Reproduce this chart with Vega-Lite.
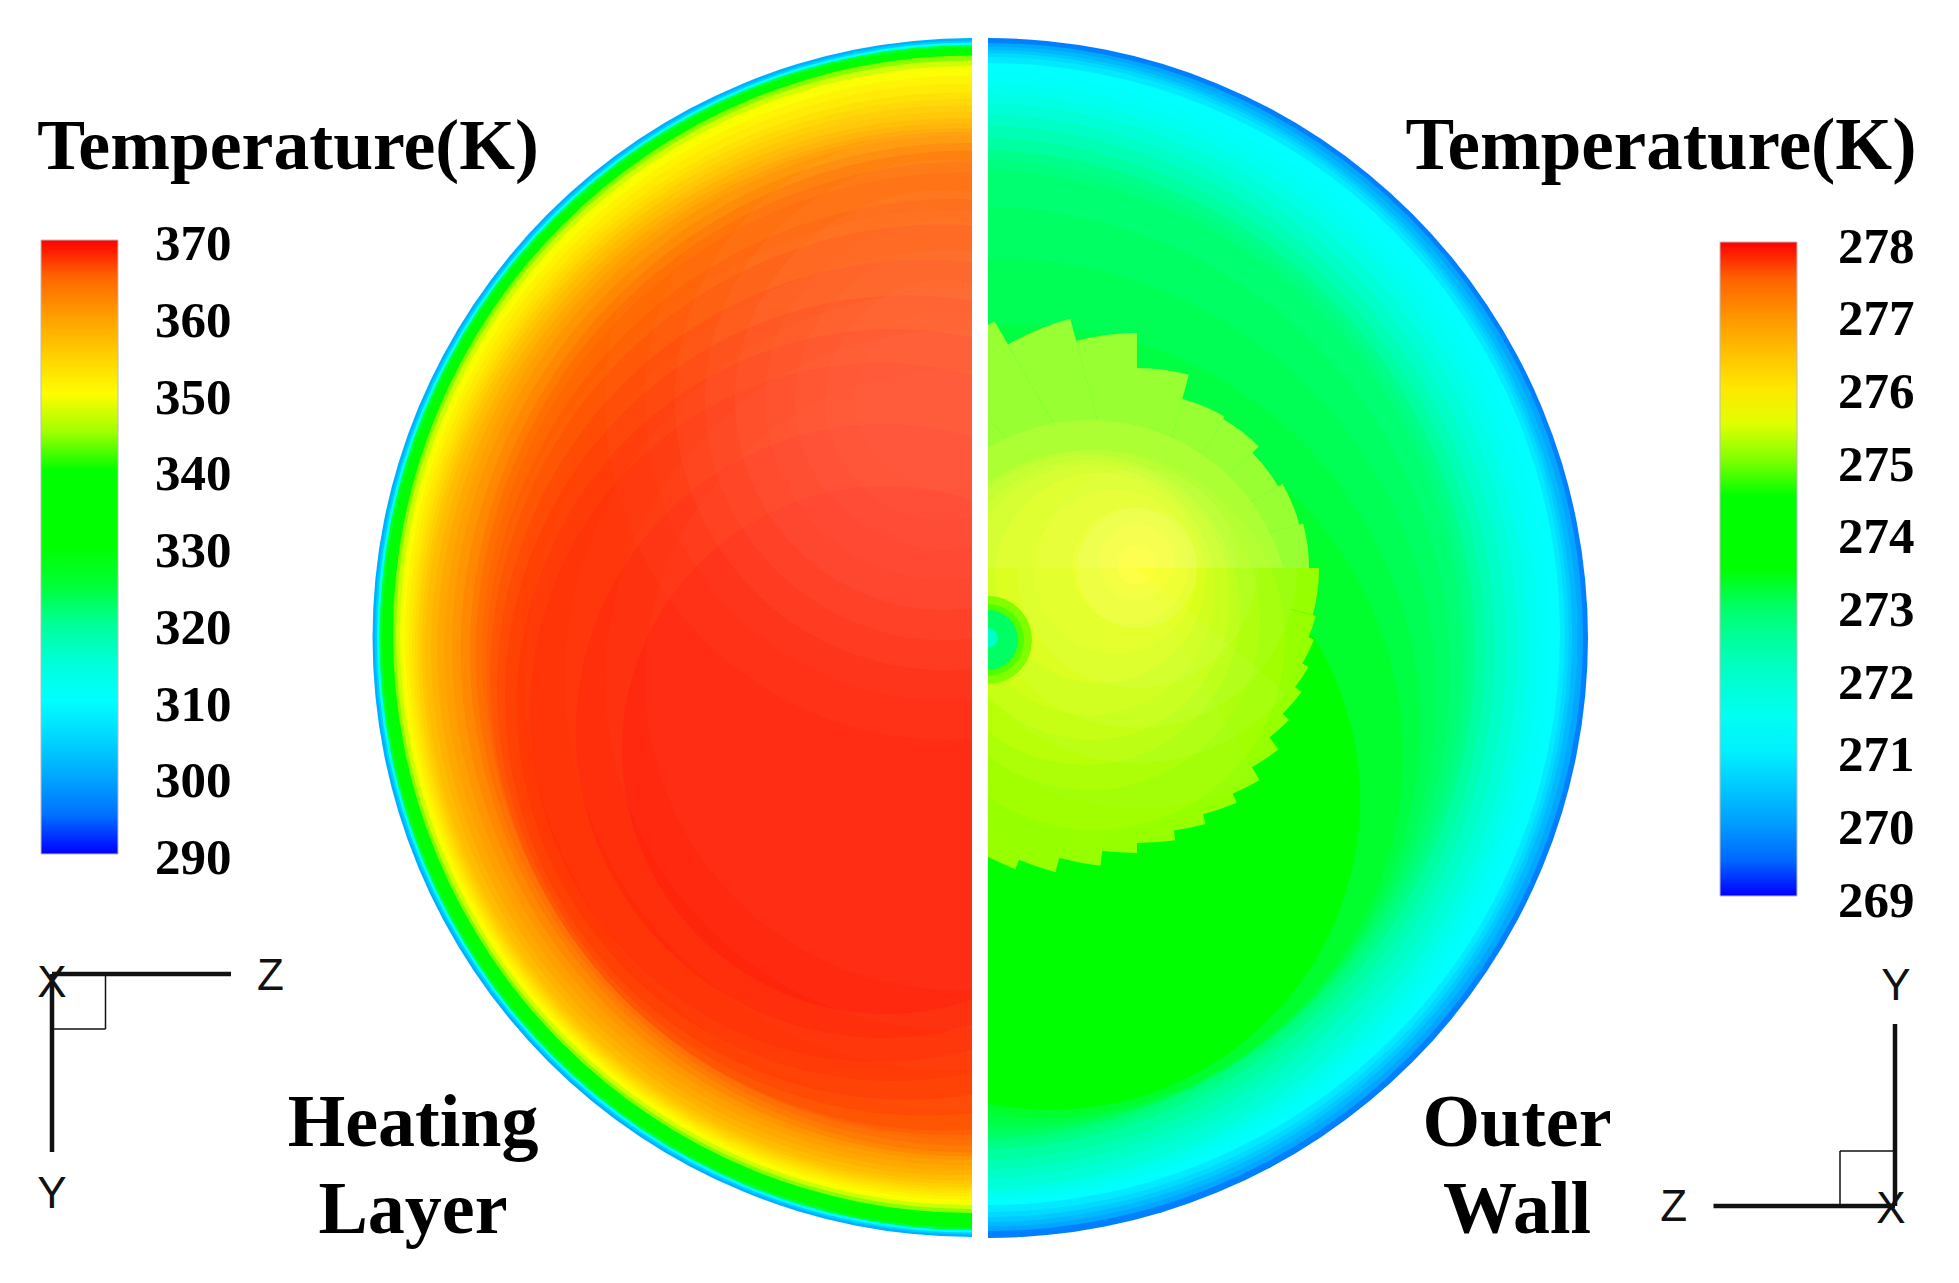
{"$schema":"https://vega.github.io/schema/vega-lite/v6.json","padding":0,"background":"white","spacing":16,"bounds":"flush","config":{"view":{"stroke":null}},
"hconcat":[
{"width":972,"height":1283,"layer":[
{"data":{"values":[{"x":972,"y":637.5,"r":599.5,"t":301},{"x":972,"y":637.5,"r":597,"t":304},{"x":972,"y":637.5,"r":595,"t":311},{"x":972,"y":637.5,"r":592.5,"t":325},{"x":972,"y":637.5,"r":590,"t":335},{"x":972.5,"y":634.5,"r":582.5,"t":341},{"x":971.75,"y":634.25,"r":578.75,"t":344},{"x":970.25,"y":634.75,"r":574.25,"t":347},{"x":969.5,"y":635.5,"r":569.5,"t":349.5},{"x":967.3,"y":637.75,"r":562.3,"t":351},{"x":965,"y":640,"r":556.5,"t":352},{"x":962.3,"y":642.75,"r":550.3,"t":353},{"x":960.5,"y":644.5,"r":545.6,"t":354},{"x":958.9,"y":646.25,"r":540.9,"t":355},{"x":957.5,"y":647.75,"r":536,"t":356},{"x":956,"y":649.25,"r":531,"t":357},{"x":957,"y":649.25,"r":526,"t":358},{"x":958,"y":649.25,"r":521,"t":359},{"x":961,"y":648.5,"r":516.7,"t":360},{"x":964.3,"y":647.75,"r":512.3,"t":361},{"x":967.6,"y":649.6,"r":506.7,"t":362.2},{"x":971,"y":651.5,"r":501,"t":363.5},{"x":968,"y":653.75,"r":492,"t":364.5},{"x":965.5,"y":656,"r":483.5,"t":365},{"x":954,"y":667,"r":468,"t":365.8},{"x":943,"y":677.5,"r":453,"t":366.6},{"x":925,"y":687.5,"r":428,"t":367.3},{"x":907.2,"y":697.5,"r":402.2,"t":368},{"x":893,"y":705,"r":376,"t":368.5},{"x":879.5,"y":712.5,"r":349.5,"t":368.8},{"x":883,"y":731,"r":307,"t":369.2},{"x":886,"y":750,"r":264,"t":369.5}]},
"mark":{"type":"arc","clip":true},"encoding":{"x":{"field":"x","type":"quantitative","axis":null,"scale":{"domain":[0,972]}},"y":{"field":"y","type":"quantitative","axis":null,"scale":{"domain":[1283,0]}},"theta":{"value":0},"theta2":{"value":6.2832},"radius":{"field":"r","type":"quantitative","stack":null,"scale":{"domain":[0,600],"range":[0,600]}},
"color":{"field":"t","type":"quantitative","scale":{"domain":[290,310,326,341.6,349.8,370],"range":["#0000ff","#00ffff","#00ff00","#00ff00","#ffff00","#ff0000"]},"legend":{"orient":"none","legendX":41,"legendY":240,"title":null,"direction":"vertical","gradientLength":614,"gradientThickness":77,"gradientStrokeColor":"#bbbbbb","gradientStrokeWidth":1,"values":[290,300,310,320,330,340,350,360,370],"format":"d","labelFont":"Liberation Serif","labelFontWeight":"bold","labelFontSize":51,"labelColor":"black","labelOffset":37,"labelOverlap":false,"encode":{"labels":{"update":{"baseline":{"value":"middle"},"dy":{"value":5}}}}}}}},
{"data":{"values":[{"x":955,"y":680,"r":470,"o":0.015},{"x":955,"y":680,"r":430,"o":0.015},{"x":955,"y":680,"r":390,"o":0.02},{"x":955,"y":680,"r":350,"o":0.02},{"x":955,"y":680,"r":310,"o":0.02},{"x":945,"y":400,"r":340,"o":0.02},{"x":945,"y":400,"r":300,"o":0.02},{"x":945,"y":400,"r":270,"o":0.03},{"x":945,"y":400,"r":240,"o":0.03},{"x":945,"y":400,"r":210,"o":0.03},{"x":945,"y":400,"r":180,"o":0.02},{"x":945,"y":400,"r":150,"o":0.02},{"x":945,"y":400,"r":120,"o":0.02},{"x":945,"y":400,"r":90,"o":0.01}]},
"mark":{"type":"arc","fill":"white","clip":true},"encoding":{"x":{"field":"x","type":"quantitative","axis":null,"scale":{"domain":[0,972]}},"y":{"field":"y","type":"quantitative","axis":null,"scale":{"domain":[1283,0]}},"theta":{"value":0},"theta2":{"value":6.2832},"radius":{"field":"r","type":"quantitative","stack":null,"scale":{"domain":[0,600],"range":[0,600]}},"opacity":{"field":"o","type":"quantitative","scale":null}}},
{"data":{"values":[{"x":52,"y":974,"x2":231,"y2":974,"w":4.5},{"x":52,"y":974,"x2":52,"y2":1152,"w":4.5},{"x":105.5,"y":974,"x2":105.5,"y2":1029,"w":1.5},{"x":52,"y":1029,"x2":105.5,"y2":1029,"w":1.5}]},"mark":{"type":"rule","color":"#111111"},"encoding":{"x":{"field":"x","type":"quantitative","axis":null,"scale":{"domain":[0,972]}},"x2":{"field":"x2"},"y":{"field":"y","type":"quantitative","axis":null,"scale":{"domain":[1283,0]}},"y2":{"field":"y2"},"strokeWidth":{"field":"w","type":"quantitative","scale":null}}},
{"data":{"values":[{"x":52,"y":984,"s":"X"},{"x":270.5,"y":977,"s":"Z"},{"x":52,"y":1195,"s":"Y"}]},"mark":{"type":"text","font":"Liberation Sans","fontSize":44,"align":"center","baseline":"middle","color":"#111111"},"encoding":{"x":{"field":"x","type":"quantitative","axis":null,"scale":{"domain":[0,972]}},"y":{"field":"y","type":"quantitative","axis":null,"scale":{"domain":[1283,0]}},"text":{"field":"s"}}},
{"data":{"values":[{"x":288,"y":169,"s":"Temperature(K)","z":71.7},{"x":413,"y":1146,"s":"Heating","z":74},{"x":413,"y":1233,"s":"Layer","z":74}]},"mark":{"type":"text","font":"Liberation Serif","fontWeight":"bold","align":"center","baseline":"alphabetic","color":"black"},"encoding":{"x":{"field":"x","type":"quantitative","axis":null,"scale":{"domain":[0,972]}},"y":{"field":"y","type":"quantitative","axis":null,"scale":{"domain":[1283,0]}},"text":{"field":"s"},"size":{"field":"z","type":"quantitative","scale":null}}}
]},
{"width":971,"height":1283,"resolve":{"scale":{"color":"independent"}},"layer":[
{"data":{"values":[{"x":988,"y":638,"r":600,"t":269.7},{"x":989,"y":637,"r":594,"t":270.1},{"x":987.5,"y":636.5,"r":590,"t":270.3},{"x":986,"y":636,"r":586,"t":270.5},{"x":986.7,"y":635.2,"r":582,"t":270.7},{"x":987.5,"y":634.5,"r":577.5,"t":270.9},{"x":989,"y":634,"r":571,"t":271.2},{"x":985,"y":637,"r":564,"t":271.35},{"x":980.4,"y":640.5,"r":557.6,"t":271.5},{"x":978,"y":643,"r":550,"t":271.7},{"x":975.4,"y":645.5,"r":542.6,"t":271.9},{"x":974,"y":646.5,"r":532.5,"t":272.1},{"x":972.3,"y":647.5,"r":522.7,"t":272.3},{"x":973.5,"y":649,"r":511.5,"t":272.5},{"x":974.8,"y":650,"r":500.2,"t":272.7},{"x":976,"y":652.5,"r":492.5,"t":272.8},{"x":977,"y":655,"r":485,"t":272.9},{"x":985,"y":672,"r":465,"t":273},{"x":1000,"y":695,"r":436,"t":273.1},{"x":1020,"y":725,"r":400,"t":273.2},{"x":1040,"y":755,"r":363,"t":273.3},{"x":1050,"y":800,"r":310,"t":273.6}]},
"mark":{"type":"arc","clip":true},"encoding":{"x":{"field":"x","type":"quantitative","axis":null,"scale":{"domain":[988,1959]}},"y":{"field":"y","type":"quantitative","axis":null,"scale":{"domain":[1283,0]}},"theta":{"value":0},"theta2":{"value":6.2832},"radius":{"field":"r","type":"quantitative","stack":null,"scale":{"domain":[0,600],"range":[0,600]}},
"color":{"field":"t","type":"quantitative","scale":{"domain":[269,271.2,273.4,274.75,275.7,278],"range":["#0000ff","#00ffff","#00ff00","#00ff00","#ffff00","#ff0000"]},"legend":{"orient":"none","legendX":732,"legendY":242,"title":null,"direction":"vertical","gradientLength":654,"gradientThickness":77,"gradientStrokeColor":"#bbbbbb","gradientStrokeWidth":1,"values":[269,270,271,272,273,274,275,276,277,278],"format":"d","labelFont":"Liberation Serif","labelFontWeight":"bold","labelFontSize":51,"labelColor":"black","labelOffset":41,"labelOverlap":false,"encode":{"labels":{"update":{"baseline":{"value":"middle"},"dy":{"value":5.5}}}}}}}},
{"data":{"values":[{"a":0,"b":15,"r":200,"t":275},{"a":15,"b":30,"r":175,"t":275},{"a":30,"b":45,"r":172,"t":275},{"a":45,"b":60,"r":163,"t":275},{"a":60,"b":75,"r":168,"t":275},{"a":75,"b":90,"r":172,"t":275},{"a":90,"b":105,"r":182,"t":275.1},{"a":105,"b":120,"r":185,"t":275.1},{"a":120,"b":135,"r":198,"t":275.1},{"a":135,"b":150,"r":215,"t":275.1},{"a":150,"b":165,"r":245,"t":275.1},{"a":165,"b":180,"r":265,"t":275.1},{"a":180,"b":195,"r":285,"t":275.1},{"a":195,"b":210,"r":315,"t":275.1},{"a":210,"b":225,"r":340,"t":275.1},{"a":225,"b":240,"r":260,"t":275.1},{"a":240,"b":255,"r":210,"t":275.1},{"a":255,"b":270,"r":210,"t":275.1},{"a":270,"b":285,"r":210,"t":275},{"a":285,"b":300,"r":210,"t":275},{"a":300,"b":315,"r":270,"t":275},{"a":315,"b":330,"r":285,"t":275},{"a":330,"b":345,"r":258,"t":275},{"a":345,"b":360,"r":235,"t":275},{"a":112,"b":128,"r":191,"t":275.1},{"a":127,"b":143,"r":206,"t":275.1},{"a":142,"b":158,"r":230,"t":275.1},{"a":157,"b":173,"r":255,"t":275.1},{"a":172,"b":188,"r":275,"t":275.1},{"a":187,"b":203,"r":300,"t":275.1},{"a":202,"b":218,"r":325,"t":275.1}]},
"mark":{"type":"arc","clip":true},"encoding":{"x":{"datum":1137,"type":"quantitative","axis":null,"scale":{"domain":[988,1959]}},"y":{"datum":568,"type":"quantitative","axis":null,"scale":{"domain":[1283,0]}},"theta":{"field":"a","type":"quantitative","stack":null,"scale":{"domain":[0,360],"range":[0,6.28319]}},"theta2":{"field":"b"},"radius":{"field":"r","type":"quantitative","stack":null,"scale":{"domain":[0,600],"range":[0,600]}},
"color":{"field":"t","type":"quantitative","legend":null,"scale":{"domain":[269,271.2,273.4,274.75,275.7,278],"range":["#0000ff","#00ffff","#00ff00","#00ff00","#ffff00","#ff0000"]}}}},
{"data":{"values":[{"x":1090,"y":620,"r":200,"t":275.1},{"x":1095,"y":640,"r":190,"t":275.15},{"x":1090,"y":620,"r":170,"t":275.2},{"x":1085,"y":610,"r":155,"t":275.26},{"x":1090,"y":600,"r":140,"t":275.32},{"x":1090,"y":590,"r":125,"t":275.38},{"x":1100,"y":578,"r":105,"t":275.44},{"x":1115,"y":572,"r":82,"t":275.5},{"x":1130,"y":566,"r":58,"t":275.56},{"x":1137,"y":562,"r":38,"t":275.62},{"x":1137,"y":565,"r":20,"t":275.68}]},
"mark":{"type":"arc","clip":true},"encoding":{"x":{"field":"x","type":"quantitative","axis":null,"scale":{"domain":[988,1959]}},"y":{"field":"y","type":"quantitative","axis":null,"scale":{"domain":[1283,0]}},"theta":{"value":0},"theta2":{"value":6.2832},"radius":{"field":"r","type":"quantitative","stack":null,"scale":{"domain":[0,600],"range":[0,600]}},
"color":{"field":"t","type":"quantitative","legend":null,"scale":{"domain":[269,271.2,273.4,274.75,275.7,278],"range":["#0000ff","#00ffff","#00ff00","#00ff00","#ffff00","#ff0000"]}}}},
{"data":{"values":[{"a":0,"b":15,"r":200,"o":0.2},{"a":15,"b":30,"r":175,"o":0.2},{"a":30,"b":45,"r":172,"o":0.2},{"a":45,"b":60,"r":163,"o":0.2},{"a":60,"b":75,"r":168,"o":0.2},{"a":75,"b":90,"r":172,"o":0.2},{"a":270,"b":285,"r":210,"o":0.2},{"a":285,"b":300,"r":210,"o":0.2},{"a":300,"b":315,"r":270,"o":0.2},{"a":315,"b":330,"r":285,"o":0.2},{"a":330,"b":345,"r":258,"o":0.2},{"a":345,"b":360,"r":235,"o":0.2},{"a":150,"b":270,"r":240,"o":0.03},{"a":130,"b":270,"r":195,"o":0.05},{"a":90,"b":270,"r":160,"o":0.06},{"a":90,"b":270,"r":120,"o":0.06},{"a":270,"b":360,"r":100,"o":0.04},{"a":0,"b":90,"r":100,"o":0.04},{"a":0,"b":360,"r":60,"o":0.1}]},
"mark":{"type":"arc","fill":"white","clip":true},"encoding":{"x":{"datum":1137,"type":"quantitative","axis":null,"scale":{"domain":[988,1959]}},"y":{"datum":568,"type":"quantitative","axis":null,"scale":{"domain":[1283,0]}},"theta":{"field":"a","type":"quantitative","stack":null,"scale":{"domain":[0,360],"range":[0,6.28319]}},"theta2":{"field":"b"},"radius":{"field":"r","type":"quantitative","stack":null,"scale":{"domain":[0,600],"range":[0,600]}},"opacity":{"field":"o","type":"quantitative","scale":null}}},
{"data":{"values":[{"x":988,"y":640,"r":44,"t":275},{"x":988,"y":640,"r":36,"t":274.85},{"x":988,"y":640,"r":30,"t":273},{"x":988,"y":638,"r":10,"t":272.1}]},
"mark":{"type":"arc","clip":true},"encoding":{"x":{"field":"x","type":"quantitative","axis":null,"scale":{"domain":[988,1959]}},"y":{"field":"y","type":"quantitative","axis":null,"scale":{"domain":[1283,0]}},"theta":{"value":0},"theta2":{"value":6.2832},"radius":{"field":"r","type":"quantitative","stack":null,"scale":{"domain":[0,600],"range":[0,600]}},
"color":{"field":"t","type":"quantitative","legend":null,"scale":{"domain":[269,271.2,273.4,274.75,275.7,278],"range":["#0000ff","#00ffff","#00ff00","#00ff00","#ffff00","#ff0000"]}}}},
{"data":{"values":[{"x":1713.5,"y":1206,"x2":1895,"y2":1206,"w":4.5},{"x":1895,"y":1024,"x2":1895,"y2":1206,"w":4.5},{"x":1840,"y":1151,"x2":1840,"y2":1206,"w":1.5},{"x":1840,"y":1151,"x2":1895,"y2":1151,"w":1.5}]},"mark":{"type":"rule","color":"#111111"},"encoding":{"x":{"field":"x","type":"quantitative","axis":null,"scale":{"domain":[988,1959]}},"x2":{"field":"x2"},"y":{"field":"y","type":"quantitative","axis":null,"scale":{"domain":[1283,0]}},"y2":{"field":"y2"},"strokeWidth":{"field":"w","type":"quantitative","scale":null}}},
{"data":{"values":[{"x":1891,"y":1210,"s":"X"},{"x":1673.6,"y":1208,"s":"Z"},{"x":1896,"y":987,"s":"Y"}]},"mark":{"type":"text","font":"Liberation Sans","fontSize":44,"align":"center","baseline":"middle","color":"#111111"},"encoding":{"x":{"field":"x","type":"quantitative","axis":null,"scale":{"domain":[988,1959]}},"y":{"field":"y","type":"quantitative","axis":null,"scale":{"domain":[1283,0]}},"text":{"field":"s"}}},
{"data":{"values":[{"x":1661,"y":169,"s":"Temperature(K)","z":73},{"x":1517,"y":1146,"s":"Outer","z":74},{"x":1517,"y":1233,"s":"Wall","z":74}]},"mark":{"type":"text","font":"Liberation Serif","fontWeight":"bold","align":"center","baseline":"alphabetic","color":"black"},"encoding":{"x":{"field":"x","type":"quantitative","axis":null,"scale":{"domain":[988,1959]}},"y":{"field":"y","type":"quantitative","axis":null,"scale":{"domain":[1283,0]}},"text":{"field":"s"},"size":{"field":"z","type":"quantitative","scale":null}}}
]}
]}
